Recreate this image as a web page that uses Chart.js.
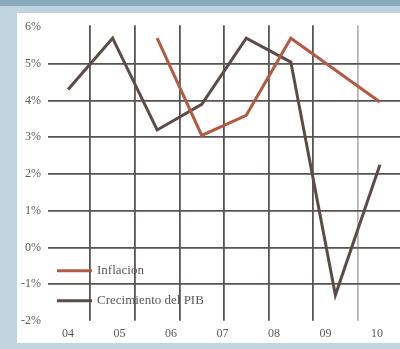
<!DOCTYPE html>
<html>
<head>
<meta charset="utf-8">
<script src="https://cdn.jsdelivr.net/npm/chart.js@4/dist/chart.umd.min.js"></script>
<style>
  html, body { margin: 0; padding: 0; }
  body { width: 400px; height: 349px; background: #bfd4df; position: relative; overflow: hidden; }
  #band { position: absolute; left: 0; top: 0; width: 400px; height: 6px; background: #8aa9bc; }
  #panel { position: absolute; left: 17px; top: 13px; width: 383px; height: 330px; background: #ffffff; }
  canvas { display: block; }
</style>
</head>
<body>
<div id="band"></div>
<div id="panel"><canvas id="c" width="383" height="330"></canvas></div>
<script>
// Category labels (years) and tick labels
const yearLabels = ["04", "05", "06", "07", "08", "09", "10"];
const yTicks = [-2, -1, 0, 1, 2, 3, 4, 5, 6];

// Series: period index (half-year steps) and values in %
const pibPeriods = [0, 1, 2, 3, 4, 5, 6, 7];
const pibValues = [4.3, 5.7, 3.2, 3.9, 5.7, 5.05, -1.3, 2.25];

const inflPeriods = [2, 3, 4, 5, 7];
const inflValues = [5.7, 3.05, 3.6, 5.7, 3.96];

const seriesNames = ["Inflación", "Crecimiento del PIB"];

const toPoints = (xs, ys) => xs.map((x, i) => ({ x: x, y: ys[i] }));

const legendPlugin = {
  id: 'innerLegend',
  afterDraw(chart) {
    const ctx = chart.ctx;
    const a = chart.chartArea;
    const rows = [a.bottom - 50, a.bottom - 20];
    ctx.save();
    chart.data.datasets.forEach((ds, i) => {
      const y = rows[i];
      ctx.strokeStyle = ds.borderColor;
      ctx.lineWidth = 3;
      ctx.beginPath();
      ctx.moveTo(a.left + 9, y);
      ctx.lineTo(a.left + 44, y);
      ctx.stroke();
      ctx.fillStyle = '#5e5858';
      ctx.font = '13px "Liberation Serif", serif';
      ctx.textBaseline = 'middle';
      ctx.textAlign = 'left';
      ctx.fillText(ds.label, a.left + 49, y);
    });
    ctx.restore();
  }
};

new Chart(document.getElementById('c'), {
  type: 'line',
  data: {
    datasets: [
      {
        label: seriesNames[0],
        data: toPoints(inflPeriods, inflValues),
        borderColor: '#b25a42',
        borderWidth: 3,
        pointRadius: 0,
        tension: 0,
        xAxisID: 'x',
        yAxisID: 'y'
      },
      {
        label: seriesNames[1],
        data: toPoints(pibPeriods, pibValues),
        borderColor: '#5c4c49',
        borderWidth: 3,
        pointRadius: 0,
        tension: 0,
        xAxisID: 'x',
        yAxisID: 'y'
      }
    ]
  },
  options: {
    responsive: false,
    devicePixelRatio: 1,
    animation: false,
    layout: { padding: { top: 8.6, left: 0, right: 0, bottom: 0 } },
    plugins: { legend: { display: false }, tooltip: { enabled: false } },
    scales: {
      x: {
        type: 'linear',
        position: 'top',
        min: -0.45,
        max: 7.45,
        afterBuildTicks(scale) {
          scale.ticks = yearLabels.map((_, i) => ({ value: i + 0.5 }));
        },
        afterFit(scale) { scale.height = 0; },
        ticks: { display: false },
        border: { display: false },
        grid: {
          drawTicks: true,
          tickLength: 2,
          lineWidth: 1.8,
          color: (c) => (c.tick && c.tick.value === 6.5) ? '#b9b5b5' : '#5a5353'
        }
      },
      xl: {
        type: 'linear',
        position: 'bottom',
        min: -0.388,
        max: 6.447,
        afterBuildTicks(scale) {
          scale.ticks = yearLabels.map((_, i) => ({ value: i }));
        },
        afterFit(scale) { scale.height = 22.2; },
        ticks: {
          padding: 6,
          color: '#5e5858',
          font: { family: '"Liberation Serif", serif', size: 12 },
          maxRotation: 0,
          autoSkip: false,
          callback: (v, i) => yearLabels[i]
        },
        border: { display: false },
        grid: { display: false, drawTicks: false }
      },
      y: {
        type: 'linear',
        position: 'left',
        min: -2,
        max: 6,
        afterBuildTicks(scale) {
          scale.ticks = yTicks.map(v => ({ value: v }));
        },
        afterFit(scale) { scale.width = 31; },
        ticks: {
          padding: 7,
          color: '#5e5858',
          font: { family: '"Liberation Serif", serif', size: 12 },
          callback: (v) => v + '%'
        },
        border: { display: false },
        grid: {
          drawTicks: false,
          lineWidth: 1.8,
          color: (c) => (c.tick && (c.tick.value === 6 || c.tick.value === -2)) ? 'rgba(0,0,0,0)' : '#5a5353'
        }
      }
    }
  },
  plugins: [legendPlugin]
});
</script>
</body>
</html>
